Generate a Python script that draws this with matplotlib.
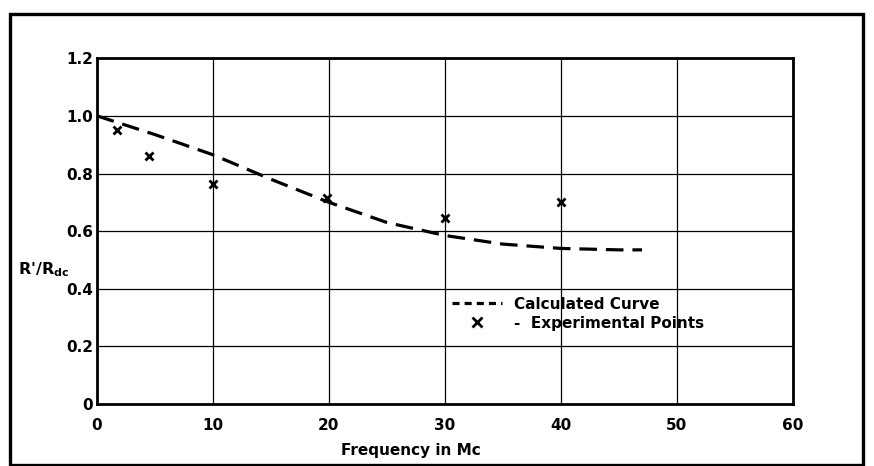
import matplotlib.pyplot as plt
from matplotlib.lines import Line2D
from matplotlib.patches import Rectangle

# calculated curve
curve_f = [0, 5, 10, 15, 20, 25, 30, 35, 40, 45, 47]
curve_r = [1.0, 0.935, 0.865, 0.78, 0.70, 0.63, 0.585, 0.555, 0.54, 0.535, 0.535]

# experimental points
exp_f = [1.7, 4.5, 10, 19.8, 30, 40]
exp_r = [0.95, 0.86, 0.765, 0.715, 0.645, 0.70]

x_ticks = [0, 10, 20, 30, 40, 50, 60]
y_ticks = [0, 0.2, 0.4, 0.6, 0.8, 1.0, 1.2]
y_labels = ['0', '0.2', '0.4', '0.6', '0.8', '1.0', '1.2']

plt.rcParams['font.family'] = ['DejaVu Sans']
plt.rcParams['font.weight'] = 'bold'
plt.rcParams['mathtext.default'] = 'bf'

fig = plt.figure(figsize=(8.74, 4.66), dpi=100)
ax = fig.add_axes([0.111, 0.133, 0.796, 0.742])

# outer border of the figure
W, H = 874, 466
fig.patches.append(Rectangle((10 / W, 1 / H), 853 / W, 451 / H, transform=fig.transFigure,
                             fill=False, lw=2.4, ec='black'))

ax.plot(curve_f, curve_r, color='black', lw=2.3, dashes=(5.5, 2.8))
ax.plot(exp_f, exp_r, ls='none', marker='x', ms=6, mew=2, color='black')

ax.set_xlim(0, 60)
ax.set_ylim(0, 1.2)
ax.set_xticks(x_ticks)
ax.set_yticks(y_ticks)
ax.set_yticklabels(y_labels)
ax.grid(True, color='black', lw=0.9)
ax.tick_params(axis='both', length=0, labelsize=11)
ax.tick_params(axis='x', pad=10)
ax.tick_params(axis='y', pad=3)
for s in ax.spines.values():
    s.set_linewidth(2)

ax.set_xlabel('Frequency in Mc', fontsize=11, fontweight='bold')
ax.xaxis.set_label_coords(0.451, -0.112)
ax.set_ylabel("R'/R$_{dc}$", rotation=0, fontsize=11.5, fontweight='bold',
              ha='left', va='center')
ax.yaxis.set_label_coords(-0.114, 0.39)

handles = [Line2D([], [], color='black', lw=2.3, dashes=(2.2, 1.6)),
           Line2D([], [], ls='none', marker='x', ms=7, mew=2, color='black')]
ax.legend(handles, ['Calculated Curve', '-  Experimental Points'], loc='upper left',
          bbox_to_anchor=(0.49, 0.35), frameon=False, fontsize=11, handlelength=3.3,
          handletextpad=0.8, labelspacing=0.25)

fig.savefig('out.png', dpi=100)
